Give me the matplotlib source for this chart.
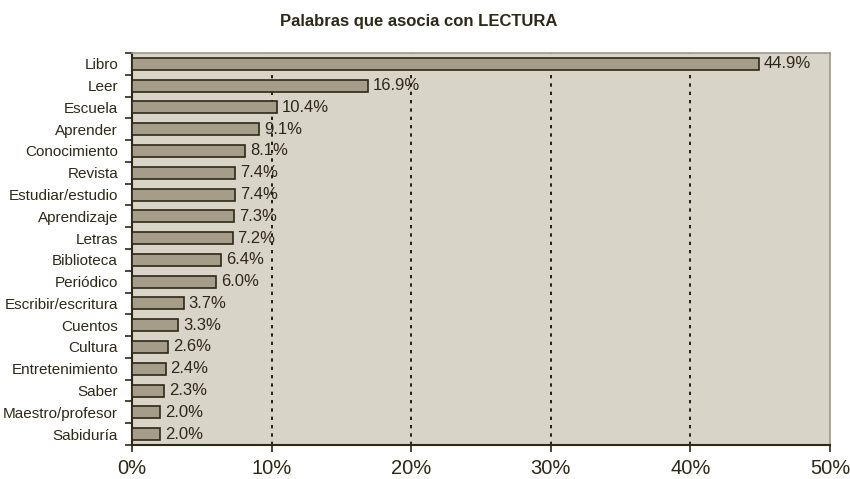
import numpy as np
import matplotlib.pyplot as plt
from matplotlib.ticker import FixedLocator, FuncFormatter

# data
palabras = ["Libro", "Leer", "Escuela", "Aprender", "Conocimiento", "Revista",
            "Estudiar/estudio", "Aprendizaje", "Letras", "Biblioteca", "Periódico",
            "Escribir/escritura", "Cuentos", "Cultura", "Entretenimiento", "Saber",
            "Maestro/profesor", "Sabiduría"]
porcentajes = [44.9, 16.9, 10.4, 9.1, 8.1, 7.4, 7.4, 7.3, 7.2, 6.4, 6.0,
               3.7, 3.3, 2.6, 2.4, 2.3, 2.0, 2.0]
x_ticks = [0, 10, 20, 30, 40, 50]

dark = "#2e2818"
bar_color = "#a59c89"
bg_color = "#d9d4c8"

fig = plt.figure(figsize=(8.5, 4.79), dpi=100)
ax = fig.add_axes([0.1553, 0.0710, 0.8212, 0.8184])
ax.set_facecolor(bg_color)

y = np.arange(len(palabras))
ax.barh(y, porcentajes, height=0.55, color=bar_color, edgecolor=dark,
        linewidth=1.2, zorder=3)

for yi, v in zip(y, porcentajes):
    ax.text(v + 0.35, yi, f"{v:.1f}%", va="center", ha="left", fontsize=12,
            color=dark, family="Liberation Sans", zorder=4)

ax.set_xlim(0, 50)
ax.set_ylim(len(palabras) - 0.5, -0.5)

ax.xaxis.set_major_locator(FixedLocator(x_ticks))
ax.xaxis.set_major_formatter(FuncFormatter(lambda v, p: f"{v:.0f}%"))
ax.tick_params(axis="x", length=5, width=1.2, color=dark, labelsize=14.5,
               labelcolor=dark, pad=5)
for lab in ax.get_xticklabels():
    lab.set_family("Liberation Sans")

ax.set_yticks(y)
ax.set_yticklabels(palabras, family="Liberation Sans", fontsize=11, color=dark)
ax.tick_params(axis="y", which="major", length=0, pad=10)
ax.set_yticks(np.arange(-0.5, len(palabras)), minor=True)
ax.tick_params(axis="y", which="minor", length=5, width=1.2, color=dark)

for gx in x_ticks[1:-1]:
    ax.axvline(gx, color="black", linestyle=(0, (2, 3)), linewidth=1.2, zorder=2)

for side in ["left", "bottom"]:
    ax.spines[side].set_color(dark)
    ax.spines[side].set_linewidth(1.5)
for side in ["top", "right"]:
    ax.spines[side].set_color("#9e988a")
    ax.spines[side].set_linewidth(1.2)

fig.text(0.493, 0.955, "Palabras que asocia con LECTURA", ha="center", va="center",
         fontsize=12, fontweight="bold", color=dark, family="Liberation Sans")

fig.savefig("out.png", dpi=100)
